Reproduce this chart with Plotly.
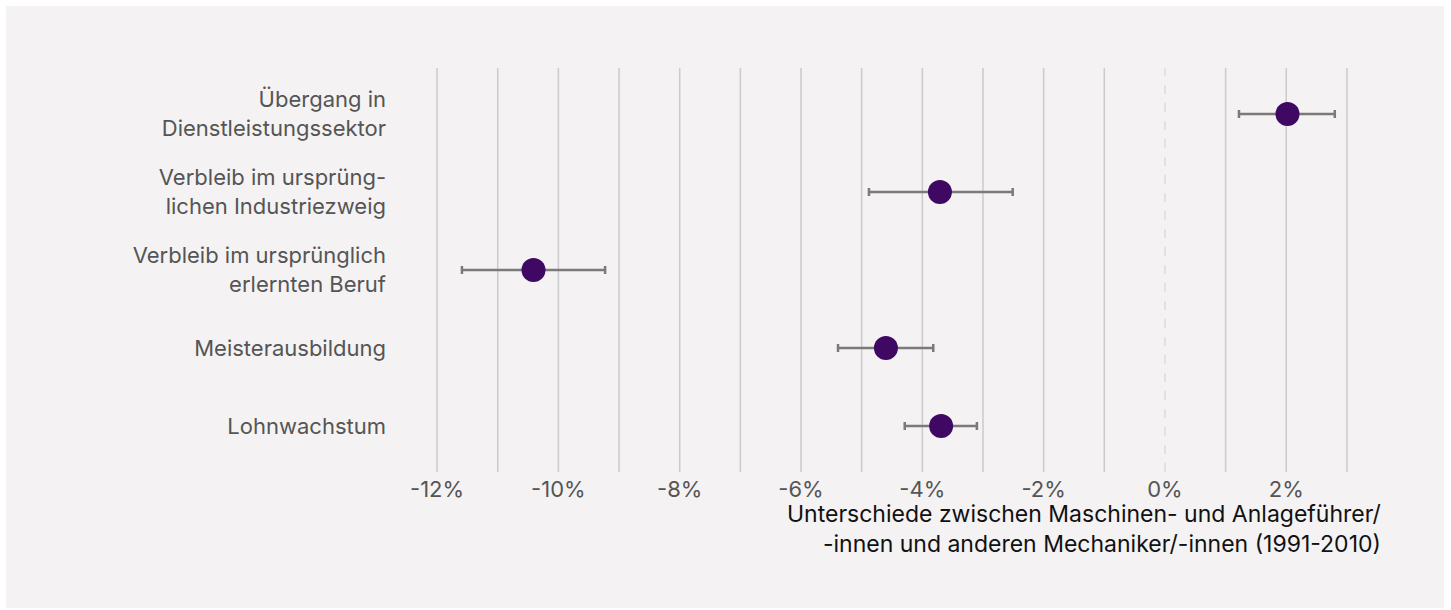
import plotly.graph_objects as go

categories = [
    "Übergang in<br>Dienstleistungssektor",
    "Verbleib im ursprüng-<br>lichen Industriezweig",
    "Verbleib im ursprünglich<br>erlernten Beruf",
    "Meisterausbildung",
    "Lohnwachstum",
]
estimate = [2.02, -3.71, -10.41, -4.60, -3.69]
ci_low = [1.22, -4.88, -11.59, -5.39, -4.29]
ci_high = [2.80, -2.51, -9.23, -3.82, -3.10]

x_ticks = [-12, -10, -8, -6, -4, -2, 0, 2]
x_tick_labels = ["-12%", "-10%", "-8%", "-6%", "-4%", "-2%", "0%", "2%"]
grid_values = list(range(-12, 4))

W, H = 1451, 610
L, R, T, B = 431, 98, 68, 138
pw = W - L - R
ph = H - T - B

FONT = "Inter"
GRAY_TXT = "#555555"

fig = go.Figure()
fig.add_trace(go.Scatter(
    x=estimate,
    y=list(range(len(categories))),
    mode="markers",
    marker=dict(size=24, color="#3e0863"),
    error_x=dict(
        type="data", symmetric=False,
        array=[h - e for h, e in zip(ci_high, estimate)],
        arrayminus=[e - l for e, l in zip(estimate, ci_low)],
        color="#7a7a7a", thickness=2.5, width=4,
    ),
    showlegend=False,
    hoverinfo="skip",
))

shapes = [dict(
    type="rect", xref="paper", yref="paper",
    x0=(6 - L) / pw, x1=(1444 - L) / pw,
    y0=(H - B - 608) / ph, y1=(H - B - 6) / ph,
    fillcolor="#f4f2f3", line=dict(width=0), layer="below",
)]
for g in grid_values:
    shapes.append(dict(
        type="line", xref="x", yref="paper", x0=g, x1=g, y0=0, y1=1,
        line=dict(color="#dcdcdc" if g == 0 else "#cbcbcb", width=1.5,
                  dash="dash" if g == 0 else "solid"),
        layer="below",
    ))

fig.update_layout(
    width=W, height=H,
    margin=dict(l=L, r=R, t=T, b=B),
    paper_bgcolor="white",
    plot_bgcolor="rgba(0,0,0,0)",
    font=dict(family=FONT, size=22, color=GRAY_TXT),
    shapes=shapes,
    xaxis=dict(
        range=[-12.1, 3.1], showgrid=False, zeroline=False, showline=False,
        tickvals=x_ticks, ticktext=x_tick_labels, ticks="",
        tickfont=dict(size=22, color=GRAY_TXT), ticklabelstandoff=2,
    ),
    yaxis=dict(
        range=[len(categories) - 1 + 0.59, -0.59], showgrid=False, zeroline=False,
        showline=False, tickvals=list(range(len(categories))), ticktext=categories,
        ticks="", ticklabelstandoff=44, tickfont=dict(size=22, color=GRAY_TXT),
    ),
    annotations=[dict(
        xref="paper", yref="paper",
        x=(1383 - L) / pw, y=-(498 - (H - B)) / ph,
        xanchor="right", yanchor="top", align="right", showarrow=False,
        text="Unterschiede zwischen Maschinen- und Anlageführer/<br>-innen und anderen Mechaniker/-innen (1991-2010)",
        font=dict(family=FONT, size=23, color="#111111"),
    )],
)

fig.write_html("out.html", config={"displayModeBar": False},
               post_script="document.body.style.margin='0';")
